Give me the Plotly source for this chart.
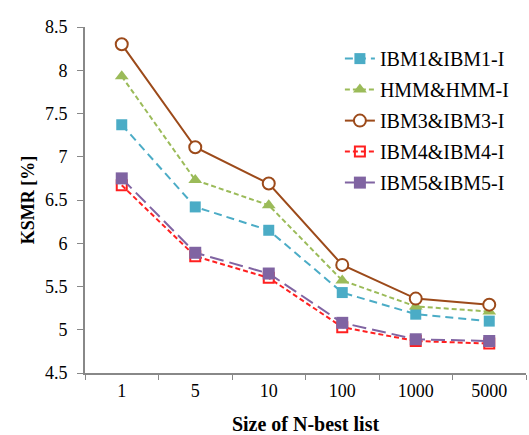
import plotly.graph_objects as go

categories = ["1", "5", "10", "100", "1000", "5000"]
ibm1 = [7.37, 6.42, 6.15, 5.43, 5.18, 5.10]
hmm = [7.93, 6.73, 6.44, 5.57, 5.27, 5.21]
ibm3 = [8.30, 7.11, 6.69, 5.75, 5.36, 5.29]
ibm4 = [6.67, 5.85, 5.60, 5.03, 4.87, 4.84]
ibm5 = [6.75, 5.89, 5.65, 5.08, 4.89, 4.87]
y_ticks = [4.5, 5, 5.5, 6, 6.5, 7, 7.5, 8, 8.5]
y_ticktext = ["4.5", "5", "5.5", "6", "6.5", "7", "7.5", "8", "8.5"]

FONT = "Liberation Serif, serif"

fig = go.Figure()
fig.add_trace(go.Scatter(x=categories, y=ibm1, name="IBM1&IBM1-I", mode="lines+markers",
                         legendgroup="a",
                         line=dict(color="#4bacc6", width=2, dash="8px,5px"),
                         marker=dict(symbol="square", size=11, color="#4bacc6")))
fig.add_trace(go.Scatter(x=categories, y=hmm, name="HMM&HMM-I", mode="lines+markers",
                         legendgroup="b",
                         line=dict(color="#9bbb59", width=2, dash="5px,3px"),
                         marker=dict(symbol="triangle-up", size=12, color="#9bbb59")))
fig.add_trace(go.Scatter(x=categories, y=ibm3, name="IBM3&IBM3-I", mode="lines+markers",
                         legendgroup="c",
                         line=dict(color="#9c4a1a", width=2),
                         marker=dict(symbol="circle", size=12, color="white",
                                     line=dict(color="#9c4a1a", width=2))))
fig.add_trace(go.Scatter(x=categories, y=ibm4, name="IBM4&IBM4-I", mode="lines+markers",
                         legendgroup="d",
                         line=dict(color="#ff2020", width=2, dash="5px,3px"),
                         marker=dict(symbol="square-open", size=10, color="#ff2020",
                                     line=dict(width=2))))
fig.add_trace(go.Scatter(x=categories, y=ibm5, name="IBM5&IBM5-I", mode="lines+markers",
                         legendgroup="e",
                         line=dict(color="#8064a2", width=2, dash="14px,6px"),
                         marker=dict(symbol="square", size=12, color="#8064a2")))

fig.update_layout(
    width=529, height=435,
    margin=dict(l=85, r=3, t=27, b=62, autoexpand=False),
    paper_bgcolor="white", plot_bgcolor="white",
    font=dict(family=FONT, size=18, color="black"),
    showlegend=True,
    legend=dict(x=0.578, y=0.965, xanchor="left", yanchor="top",
                font=dict(family=FONT, size=20), bgcolor="rgba(0,0,0,0)",
                tracegroupgap=2),
    xaxis=dict(type="category", range=[-0.5, 5.5], tickson="boundaries",
               ticks="outside", ticklen=5, tickcolor="#888", showline=True,
               linecolor="#888", linewidth=2, showgrid=False, zeroline=False,
               automargin=False,
               tickfont=dict(family=FONT, size=18),
               title=dict(text="<b>Size of N-best list</b>", standoff=18,
                          font=dict(family=FONT, size=20))),
    yaxis=dict(range=[4.5, 8.5], tickvals=y_ticks, ticktext=y_ticktext,
               ticks="outside", ticklen=6, tickcolor="#888", showline=True,
               linecolor="#888", linewidth=2, showgrid=False, zeroline=False,
               automargin=False, ticklabelstandoff=6,
               tickfont=dict(family=FONT, size=18),
               title=dict(text="<b>KSMR [%]</b>", standoff=6,
                          font=dict(family=FONT, size=18))),
)

fig.write_html("out.html", config={"displayModeBar": False},
               post_script="document.body.style.margin='0';")
